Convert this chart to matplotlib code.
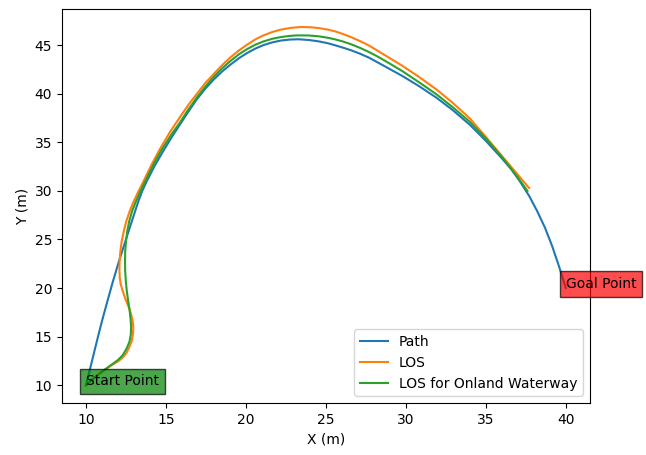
import matplotlib
matplotlib.use("Agg")
import matplotlib.pyplot as plt

# Reference path (m)
path_x = [10.0, 10.36, 10.72, 10.99, 11.28, 11.66, 12.06, 12.46, 12.86, 13.28, 13.52, 13.8,
          14.3, 14.82, 15.35, 15.87, 16.4, 16.92, 17.45, 17.98, 18.52, 19.04, 19.56,
          20.08, 20.6, 21.1, 21.65, 22.2, 22.75, 23.3, 23.95, 24.56, 25.1, 25.6, 26.1,
          26.6, 27.15, 27.7, 28.2, 28.7, 29.8, 30.8, 31.9, 32.9, 34.0, 35.0, 36.0, 36.6,
          37.1, 37.7, 38.2, 38.7, 39.15, 39.6, 40.0]
path_y = [10.0, 12.4, 14.8, 16.55, 18.3, 20.55, 22.76, 24.8, 26.85, 28.95, 30.0, 31.0,
          32.6, 34.07, 35.5, 36.82, 38.15, 39.4, 40.5, 41.45, 42.3, 43.0, 43.65,
          44.19, 44.65, 45.0, 45.28, 45.47, 45.57, 45.6, 45.52, 45.38, 45.2, 44.97, 44.72,
          44.45, 44.1, 43.7, 43.25, 42.8, 41.8, 40.8, 39.6, 38.35, 36.8, 35.15, 33.35, 32.2,
          31.05, 29.5, 27.95, 26.2, 24.3, 22.1, 20.0]

# Trajectory followed with plain LOS guidance
los_x = [10.0, 10.6, 11.1, 11.64, 12.0, 12.27, 12.52, 12.69, 12.85, 12.93, 12.96, 12.92,
         12.82, 12.69, 12.47, 12.3, 12.17, 12.11, 12.09, 12.1, 12.15, 12.23, 12.36,
         12.52, 12.73, 12.98, 13.28, 13.6, 14.1, 14.62, 15.25, 15.88, 16.42, 16.94,
         17.46, 18.0, 18.52, 19.04, 19.56, 20.08, 20.6, 21.1, 21.65, 22.2, 22.8, 23.4,
         24.0, 24.56, 25.1, 25.6, 26.1, 26.6, 27.15, 27.7, 28.2, 28.7, 29.8, 30.8,
         31.9, 32.9, 34.0, 35.0, 36.0, 36.9, 37.7]
los_y = [10.0, 10.9, 11.5, 12.1, 12.45, 12.8, 13.3, 13.84, 14.5, 15.2, 15.9, 16.58,
         17.3, 17.95, 18.85, 19.67, 20.4, 21.04, 21.9, 22.76, 23.8, 24.8, 25.84,
         26.87, 27.9, 28.9, 29.95, 31.0, 32.7, 34.3, 36.05, 37.6, 38.9, 40.0,
         41.1, 42.05, 42.95, 43.75, 44.45, 45.05, 45.6, 46.0, 46.35, 46.6, 46.77, 46.86,
         46.84, 46.75, 46.6, 46.4, 46.12, 45.8, 45.4, 44.95, 44.45, 43.95, 42.85, 41.75,
         40.45, 39.1, 37.45, 35.55, 33.6, 31.85, 30.3]

# Trajectory followed with LOS adapted to the onland waterway
wlos_x = [10.0, 10.5, 11.0, 11.5, 12.0, 12.3, 12.55, 12.72, 12.8, 12.82, 12.78, 12.72,
          12.64, 12.55, 12.49, 12.45, 12.44, 12.45, 12.5, 12.58, 12.7, 12.88, 13.12,
          13.4, 13.71, 14.2, 14.72, 15.32, 15.9, 16.43, 16.95, 17.47, 18.0, 18.52,
          19.04, 19.56, 20.08, 20.6, 21.1, 21.65, 22.2, 22.7, 23.2, 23.9, 24.56, 25.1,
          25.6, 26.1, 26.6, 27.15, 27.7, 28.2, 28.7, 29.8, 30.8, 31.9, 32.9, 34.0,
          35.0, 36.0, 36.9, 37.6]
wlos_y = [10.0, 10.75, 11.4, 12.0, 12.6, 13.1, 13.8, 14.5, 15.2, 16.0, 16.92, 17.8,
          18.64, 19.7, 20.7, 21.7, 22.76, 23.8, 24.8, 25.85, 26.87, 27.9, 28.9,
          29.95, 31.0, 32.65, 34.2, 35.75, 37.1, 38.45, 39.65, 40.75, 41.75, 42.62,
          43.38, 44.05, 44.6, 45.05, 45.38, 45.65, 45.83, 45.94, 46.0, 45.99, 45.9, 45.76,
          45.58, 45.35, 45.07, 44.7, 44.28, 43.85, 43.38, 42.3, 41.2, 39.95, 38.65, 37.1,
          35.4, 33.5, 31.6, 30.0]

start_pt = (10, 10)
goal_pt = (40, 20)

fig = plt.figure(figsize=(6.46, 4.55), dpi=100)
ax = fig.add_axes([0.096, 0.114, 0.817, 0.866])

ax.plot(path_x, path_y, label="Path")
ax.plot(los_x, los_y, label="LOS")
ax.plot(wlos_x, wlos_y, label="LOS for Onland Waterway")

ax.text(*start_pt, "Start Point", bbox=dict(facecolor="green", alpha=0.7))
ax.text(*goal_pt, "Goal Point", bbox=dict(facecolor="red", alpha=0.7))

ax.set_xlabel("X (m)")
ax.set_ylabel("Y (m)")
ax.legend(loc="lower right")

fig.savefig("out.png", dpi=100)
